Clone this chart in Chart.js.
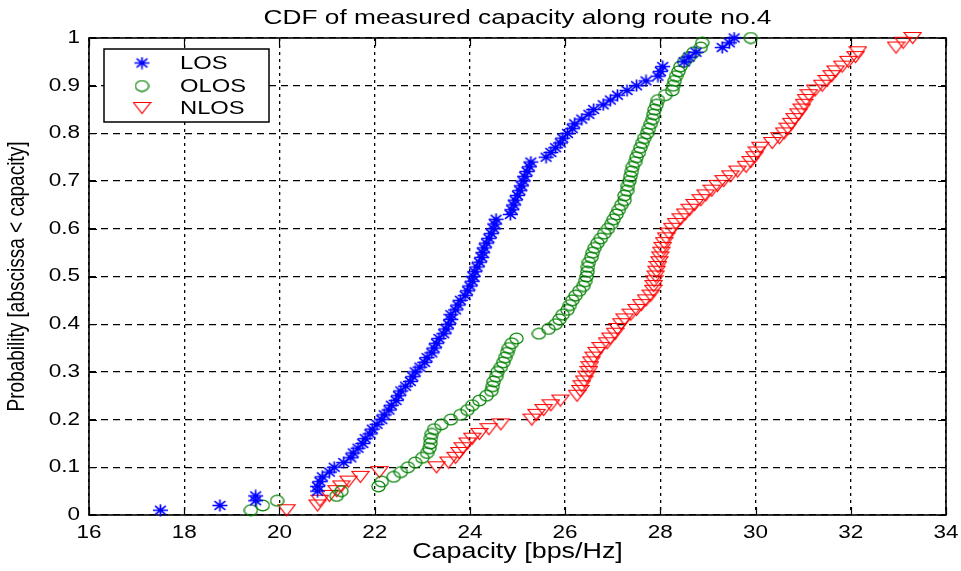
<!DOCTYPE html>
<html><head><meta charset="utf-8">
<script src="https://cdn.jsdelivr.net/npm/chart.js@4/dist/chart.umd.min.js"></script>
<style>html,body{margin:0;padding:0;background:#fff;overflow:hidden}#wrap{width:961px;height:571px}</style>
</head><body><div id="wrap"><canvas id="c" width="961" height="571"></canvas></div>
<script>
// ---- data ----
const chartTitle = 'CDF of measured capacity along route no.4';
const xAxisTitle = 'Capacity [bps/Hz]';
const yAxisTitle = 'Probability [abscissa < capacity]';
const seriesNames = ['LOS', 'OLOS', 'NLOS'];
const xTickValues = [16, 18, 20, 22, 24, 26, 28, 30, 32, 34];
const xTickLabels = ['16', '18', '20', '22', '24', '26', '28', '30', '32', '34'];
const yTickValues = [0, 0.1, 0.2, 0.3, 0.4, 0.5, 0.6, 0.7, 0.8, 0.9, 1];
const yTickLabels = ['0', '0.1', '0.2', '0.3', '0.4', '0.5', '0.6', '0.7', '0.8', '0.9', '1'];

const probLevels = [
 0.01,0.02,0.03,0.04,0.05,0.06,0.07,0.08,0.09,0.10,
 0.11,0.12,0.13,0.14,0.15,0.16,0.17,0.18,0.19,0.20,
 0.21,0.22,0.23,0.24,0.25,0.26,0.27,0.28,0.29,0.30,
 0.31,0.32,0.33,0.34,0.35,0.36,0.37,0.38,0.39,0.40,
 0.41,0.42,0.43,0.44,0.45,0.46,0.47,0.48,0.49,0.50,
 0.51,0.52,0.53,0.54,0.55,0.56,0.57,0.58,0.59,0.60,
 0.61,0.62,0.63,0.64,0.65,0.66,0.67,0.68,0.69,0.70,
 0.71,0.72,0.73,0.74,0.75,0.76,0.77,0.78,0.79,0.80,
 0.81,0.82,0.83,0.84,0.85,0.86,0.87,0.88,0.89,0.90,
 0.91,0.92,0.93,0.94,0.95,0.96,0.97,0.98,0.99,1.00];

const losCapacity = [
 17.5,18.75,19.5,19.5,20.8,20.8,20.85,20.9,21.05,21.15,
 21.35,21.5,21.55,21.65,21.75,21.8,21.9,21.95,22.05,22.15,
 22.2,22.3,22.35,22.45,22.5,22.55,22.65,22.75,22.8,22.85,
 22.95,23.05,23.1,23.2,23.25,23.3,23.35,23.45,23.5,23.55,
 23.6,23.6,23.7,23.75,23.8,23.9,23.95,24.0,24.05,24.07,
 24.1,24.15,24.2,24.25,24.27,24.3,24.35,24.4,24.45,24.5,
 24.52,24.55,24.85,24.88,24.92,24.95,25.0,25.05,25.08,25.12,
 25.15,25.2,25.25,25.28,25.6,25.7,25.8,25.9,25.95,26.05,
 26.15,26.2,26.35,26.5,26.6,26.8,26.95,27.1,27.3,27.5,
 27.7,27.95,28.0,28.05,28.5,28.6,28.75,29.3,29.45,29.55];

const olosCapacity = [
 19.4,19.65,19.95,21.2,21.3,22.08,22.15,22.4,22.55,22.7,
 22.85,23.0,23.1,23.15,23.17,23.18,23.2,23.25,23.4,23.6,
 23.8,23.95,24.05,24.2,24.35,24.45,24.48,24.5,24.55,24.58,
 24.65,24.7,24.74,24.78,24.82,24.88,24.98,25.45,25.65,25.8,
 25.88,25.95,26.05,26.1,26.15,26.22,26.3,26.38,26.42,26.45,
 26.47,26.48,26.5,26.55,26.58,26.62,26.68,26.75,26.82,26.9,
 26.97,27.02,27.08,27.13,27.18,27.25,27.25,27.3,27.32,27.35,
 27.37,27.4,27.42,27.47,27.5,27.55,27.58,27.62,27.66,27.72,
 27.76,27.8,27.84,27.86,27.88,27.92,27.95,28.1,28.25,28.27,
 28.3,28.33,28.38,28.42,28.5,28.6,28.7,28.85,28.88,29.9];

const nlosCapacity = [
 20.15,20.8,20.85,21.05,21.2,21.3,21.45,21.7,22.1,23.3,
 23.55,23.7,23.78,23.85,23.95,24.05,24.2,24.4,24.65,25.3,
 25.4,25.55,25.7,25.9,26.25,26.32,26.35,26.4,26.45,26.5,
 26.52,26.55,26.6,26.66,26.75,26.88,26.95,27.05,27.1,27.18,
 27.25,27.38,27.5,27.6,27.7,27.8,27.85,27.86,27.87,27.9,
 27.92,27.95,27.98,28.0,28.02,28.05,28.08,28.12,28.18,28.25,
 28.33,28.43,28.52,28.62,28.72,28.85,28.95,29.08,29.2,29.33,
 29.47,29.62,29.8,29.9,29.98,30.03,30.1,30.35,30.5,30.6,
 30.68,30.75,30.82,30.9,30.97,31.02,31.06,31.12,31.25,31.4,
 31.5,31.6,31.68,31.82,31.95,32.1,32.15,32.95,33.1,33.3];

// ---- styling ----
const SX = 1.25; // horizontal stretch of the reference picture
const FONT = '"Liberation Sans", Arial, Helvetica, sans-serif';

function makeMarker(kind, color) {
  const c = document.createElement('canvas');
  const g = c.getContext('2d');
  if (kind === 'star') {
    c.width = 17; c.height = 13;
    const cx = 8.5, cy = 6.5, rx = 7.5, ry = 6;
    g.strokeStyle = color; g.lineWidth = 1.7;
    g.beginPath();
    g.moveTo(cx - rx, cy); g.lineTo(cx + rx, cy);
    g.moveTo(cx, cy - ry); g.lineTo(cx, cy + ry);
    g.moveTo(cx - rx * 0.72, cy - ry * 0.72); g.lineTo(cx + rx * 0.72, cy + ry * 0.72);
    g.moveTo(cx - rx * 0.72, cy + ry * 0.72); g.lineTo(cx + rx * 0.72, cy - ry * 0.72);
    g.stroke();
  } else if (kind === 'circle') {
    c.width = 15; c.height = 13;
    g.strokeStyle = color; g.lineWidth = 1.2;
    g.beginPath(); g.ellipse(7.5, 6.5, 6.6, 5.3, 0, 0, Math.PI * 2); g.stroke();
  } else {
    c.width = 19; c.height = 14;
    g.strokeStyle = color; g.lineWidth = 1.2;
    g.beginPath(); g.moveTo(1, 1.5); g.lineTo(18, 1.5); g.lineTo(9.5, 12.5); g.closePath(); g.stroke();
  }
  return c;
}
const markerLOS = makeMarker('star', '#0000ff');
const markerOLOS = makeMarker('circle', '#008000');
const markerNLOS = makeMarker('triangle', '#ff0000');

function toPoints(xs, ys) { return xs.map((x, i) => ({x: x, y: ys[i]})); }

function drawText(ctx, text, x, y, size, align, baseline, rotate) {
  ctx.save();
  ctx.translate(x, y);
  ctx.scale(SX, 1);
  if (rotate) ctx.rotate(rotate);
  ctx.font = size + 'px ' + FONT;
  ctx.textAlign = align; ctx.textBaseline = baseline; ctx.fillStyle = '#000';
  ctx.fillText(text, 0, 0);
  ctx.restore();
}

const decor = {
  id: 'decor',
  beforeDatasetsDraw(chart) {
    const {ctx, chartArea: a, scales: {x, y}} = chart;
    ctx.save();
    ctx.strokeStyle = '#000'; ctx.lineWidth = 1.2;
    ctx.beginPath();
    xTickValues.forEach(v => { const p = Math.round(x.getPixelForValue(v)) + 0.5;
      ctx.moveTo(p, a.bottom); ctx.lineTo(p, a.bottom - 8); ctx.moveTo(p, a.top); ctx.lineTo(p, a.top + 8); });
    yTickValues.forEach(v => { const p = Math.round(y.getPixelForValue(v)) + 0.5;
      ctx.moveTo(a.left, p); ctx.lineTo(a.left + 8, p); ctx.moveTo(a.right, p); ctx.lineTo(a.right - 8, p); });
    ctx.stroke();
    ctx.lineWidth = 1.6;
    ctx.strokeRect(a.left, a.top, a.right - a.left, a.bottom - a.top);
    ctx.restore();
  },
  afterDatasetsDraw(chart) {
    const {ctx, chartArea: a, scales: {x, y}} = chart;
    // tick labels
    xTickValues.forEach((v, i) => drawText(ctx, xTickLabels[i], x.getPixelForValue(v), 538, 18, 'center', 'alphabetic'));
    yTickValues.forEach((v, i) => drawText(ctx, yTickLabels[i], 80, y.getPixelForValue(v), 18, 'right', 'middle'));
    // titles
    drawText(ctx, chartTitle, (a.left + a.right) / 2, 24, 21, 'center', 'alphabetic');
    drawText(ctx, xAxisTitle, (a.left + a.right) / 2, 558, 21.5, 'center', 'alphabetic');
    drawText(ctx, yAxisTitle, 24, (a.top + a.bottom) / 2, 19, 'center', 'alphabetic', -Math.PI / 2);
    // legend
    ctx.save();
    ctx.fillStyle = '#fff'; ctx.fillRect(104, 49, 165, 73);
    ctx.strokeStyle = '#000'; ctx.lineWidth = 1.5; ctx.strokeRect(104, 49, 165, 73);
    const rows = [63, 86, 108];
    chart.data.datasets.forEach((ds, i) => {
      const m = ds.pointStyle;
      ctx.drawImage(m, 142 - m.width / 2, rows[i] - m.height / 2);
      drawText(ctx, ds.label, 180, rows[i] + 1, 19, 'left', 'middle');
    });
    ctx.restore();
  }
};

new Chart(document.getElementById('c'), {
  type: 'scatter',
  data: {
    datasets: [
      {label: seriesNames[0], data: toPoints(losCapacity, probLevels), pointStyle: markerLOS, clip: false},
      {label: seriesNames[1], data: toPoints(olosCapacity, probLevels), pointStyle: markerOLOS, clip: false},
      {label: seriesNames[2], data: toPoints(nlosCapacity, probLevels), pointStyle: markerNLOS, clip: false}
    ]
  },
  options: {
    responsive: false, animation: false, devicePixelRatio: 1,
    layout: {padding: {left: 0, right: 15, top: 38, bottom: 0}},
    plugins: {legend: {display: false}, tooltip: {enabled: false}, title: {display: false}},
    scales: {
      x: {type: 'linear', min: 16, max: 34, afterFit: s => { s.height = 56; },
          ticks: {stepSize: 2, display: false},
          grid: {color: '#000', lineWidth: 1.3, drawTicks: false},
          border: {display: false, dash: [3, 4]}},
      y: {type: 'linear', min: 0, max: 1, afterFit: s => { s.width = 89; },
          ticks: {stepSize: 0.1, display: false},
          grid: {color: '#000', lineWidth: 1.3, drawTicks: false},
          border: {display: false, dash: [7, 5]}}
    }
  },
  plugins: [decor]
});
</script>
</body></html>
